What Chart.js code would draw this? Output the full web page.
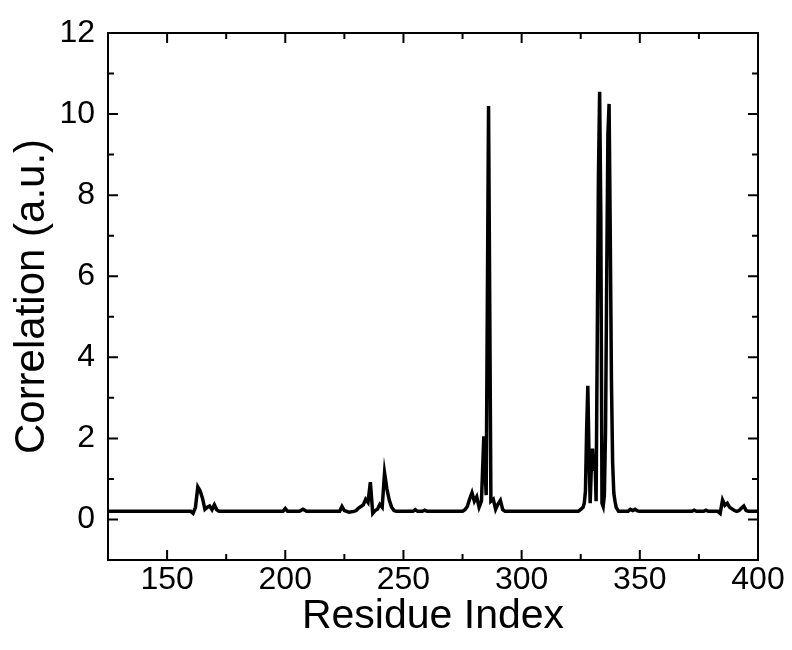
<!DOCTYPE html>
<html>
<head>
<meta charset="utf-8">
<script src="https://cdn.jsdelivr.net/npm/chart.js@4"></script>
<style>
  html, body { margin: 0; padding: 0; background: #fff; }
  #wrap { width: 792px; height: 650px; }
</style>
</head>
<body>
<div id="wrap"><canvas id="corrChart"></canvas></div>
<script>
// residue index (x) and correlation (y)
var residues = [
  125, 160, 161, 162, 163, 164, 165, 166, 167, 168, 169, 170, 171, 172,
  199, 200, 201, 206, 207.5, 209,
  223, 224, 225, 227, 229, 230, 231, 232, 233, 234, 235, 236, 237, 238, 239, 240, 241, 242, 243, 244, 245, 246, 247,
  254, 255, 256, 258, 259, 260,
  275, 276, 277, 278, 279, 280, 281, 282, 283, 284, 285, 286, 287, 288, 289, 290, 291, 292, 293,
  324, 325, 326, 326.5, 327, 327.5, 328, 328.5, 329, 329.5, 330, 330.5, 331, 331.5, 332, 332.5,
  333, 333.5, 334, 334.5, 335, 335.5, 336, 336.5, 337, 337.5, 338, 338.5, 339, 339.5, 340, 341,
  345, 346, 347, 348, 349, 350,
  372, 373, 374, 377, 378, 379,
  383, 384, 385, 386, 387, 388, 389, 390, 391, 392, 393, 394, 395, 396, 400
];
var correlation = [
  0.2, 0.2, 0.15, 0.3, 0.8, 0.7, 0.52, 0.25, 0.3, 0.33, 0.24, 0.36, 0.24, 0.2,
  0.2, 0.27, 0.2, 0.2, 0.25, 0.2,
  0.2, 0.32, 0.22, 0.18, 0.2, 0.22, 0.28, 0.32, 0.36, 0.5, 0.42, 0.92, 0.15, 0.22, 0.25, 0.37, 0.3, 1.15, 0.75, 0.48, 0.3, 0.22, 0.2,
  0.2, 0.24, 0.2, 0.2, 0.23, 0.2,
  0.2, 0.24, 0.32, 0.5, 0.66, 0.45, 0.56, 0.3, 0.45, 2.05, 0.6, 10.2, 0.45, 0.5, 0.25, 0.38, 0.47, 0.24, 0.2,
  0.2, 0.25, 0.3, 0.4, 0.7, 2.2, 3.3, 1.6, 0.4, 1.3, 1.75, 1.2, 1.6, 0.45, 4.5, 8.5,
  10.55, 7.5, 0.4, 0.32, 0.6, 2.2, 6, 9.5, 10.25, 7, 3.4, 1.4, 0.65, 0.45, 0.3, 0.2,
  0.2, 0.25, 0.22, 0.25, 0.21, 0.2,
  0.2, 0.23, 0.2, 0.2, 0.23, 0.2,
  0.2, 0.15, 0.48, 0.35, 0.4, 0.3, 0.26, 0.22, 0.2, 0.22, 0.28, 0.33, 0.22, 0.2, 0.2
];

var xTicks = [150, 200, 250, 300, 350, 400];
var xMinor = [125, 175, 225, 275, 325, 375];
var yTicks = [0, 2, 4, 6, 8, 10, 12];
var yMinor = [-1, 1, 3, 5, 7, 9, 11];

var points = residues.map(function (r, i) { return { x: r, y: correlation[i] }; });

// frame box plus inward ticks on all four sides
var frameTicks = {
    id: 'frameTicks',
    afterDraw: function (chart) {
        var ctx = chart.ctx, a = chart.chartArea;
        var sx = chart.scales.x, sy = chart.scales.y;
        ctx.save();
        ctx.strokeStyle = '#000';
        ctx.lineWidth = 2;
        ctx.beginPath();
        function seg(x1, y1, x2, y2) { ctx.moveTo(x1, y1); ctx.lineTo(x2, y2); }
        xTicks.forEach(function (v) {
            var p = sx.getPixelForValue(v);
            seg(p, a.bottom, p, a.bottom - 10);
            seg(p, a.top, p, a.top + 10);
        });
        xMinor.forEach(function (v) {
            var p = sx.getPixelForValue(v);
            seg(p, a.bottom, p, a.bottom - 6);
            seg(p, a.top, p, a.top + 6);
        });
        yTicks.forEach(function (v) {
            var p = sy.getPixelForValue(v);
            seg(a.left, p, a.left + 10, p);
            seg(a.right, p, a.right - 10, p);
        });
        yMinor.forEach(function (v) {
            var p = sy.getPixelForValue(v);
            seg(a.left, p, a.left + 6, p);
            seg(a.right, p, a.right - 6, p);
        });
        ctx.stroke();
        ctx.strokeRect(a.left, a.top, a.width, a.height);
        ctx.restore();
    }
};

var font = "'Liberation Sans', Arial, sans-serif";

new Chart(document.getElementById('corrChart'), {
    type: 'line',
    data: {
        datasets: [{
            data: points,
            borderColor: '#000',
            borderWidth: 3.5,
            pointRadius: 0,
            tension: 0,
            fill: false
        }]
    },
    options: {
        responsive: true,
        maintainAspectRatio: false,
        animation: false,
        layout: { padding: { top: 33, right: 34, left: 0, bottom: 0 } },
        plugins: { legend: { display: false }, tooltip: { enabled: false } },
        scales: {
            x: {
                type: 'linear',
                min: 125,
                max: 400,
                afterBuildTicks: function (s) { s.ticks = xTicks.map(function (v) { return { value: v }; }); },
                afterFit: function (s) { s.height = 90; },
                grid: { display: false },
                border: { display: false },
                ticks: { color: '#000', font: { family: font, size: 32, lineHeight: 1 }, padding: -4, maxRotation: 0 },
                title: { display: true, text: 'Residue Index', color: '#000', font: { family: font, size: 41 }, padding: { top: 0, bottom: 9 } }
            },
            y: {
                min: -1,
                max: 12,
                afterBuildTicks: function (s) { s.ticks = yTicks.map(function (v) { return { value: v }; }); },
                afterFit: function (s) { s.width = 108; },
                grid: { display: false },
                border: { display: false },
                ticks: { color: '#000', font: { family: font, size: 32 }, padding: 5 },
                title: { display: true, text: 'Correlation (a.u.)', color: '#000', font: { family: font, size: 42 }, padding: { top: 7, bottom: 0 } }
            }
        }
    },
    plugins: [frameTicks]
});
</script>
</body>
</html>
